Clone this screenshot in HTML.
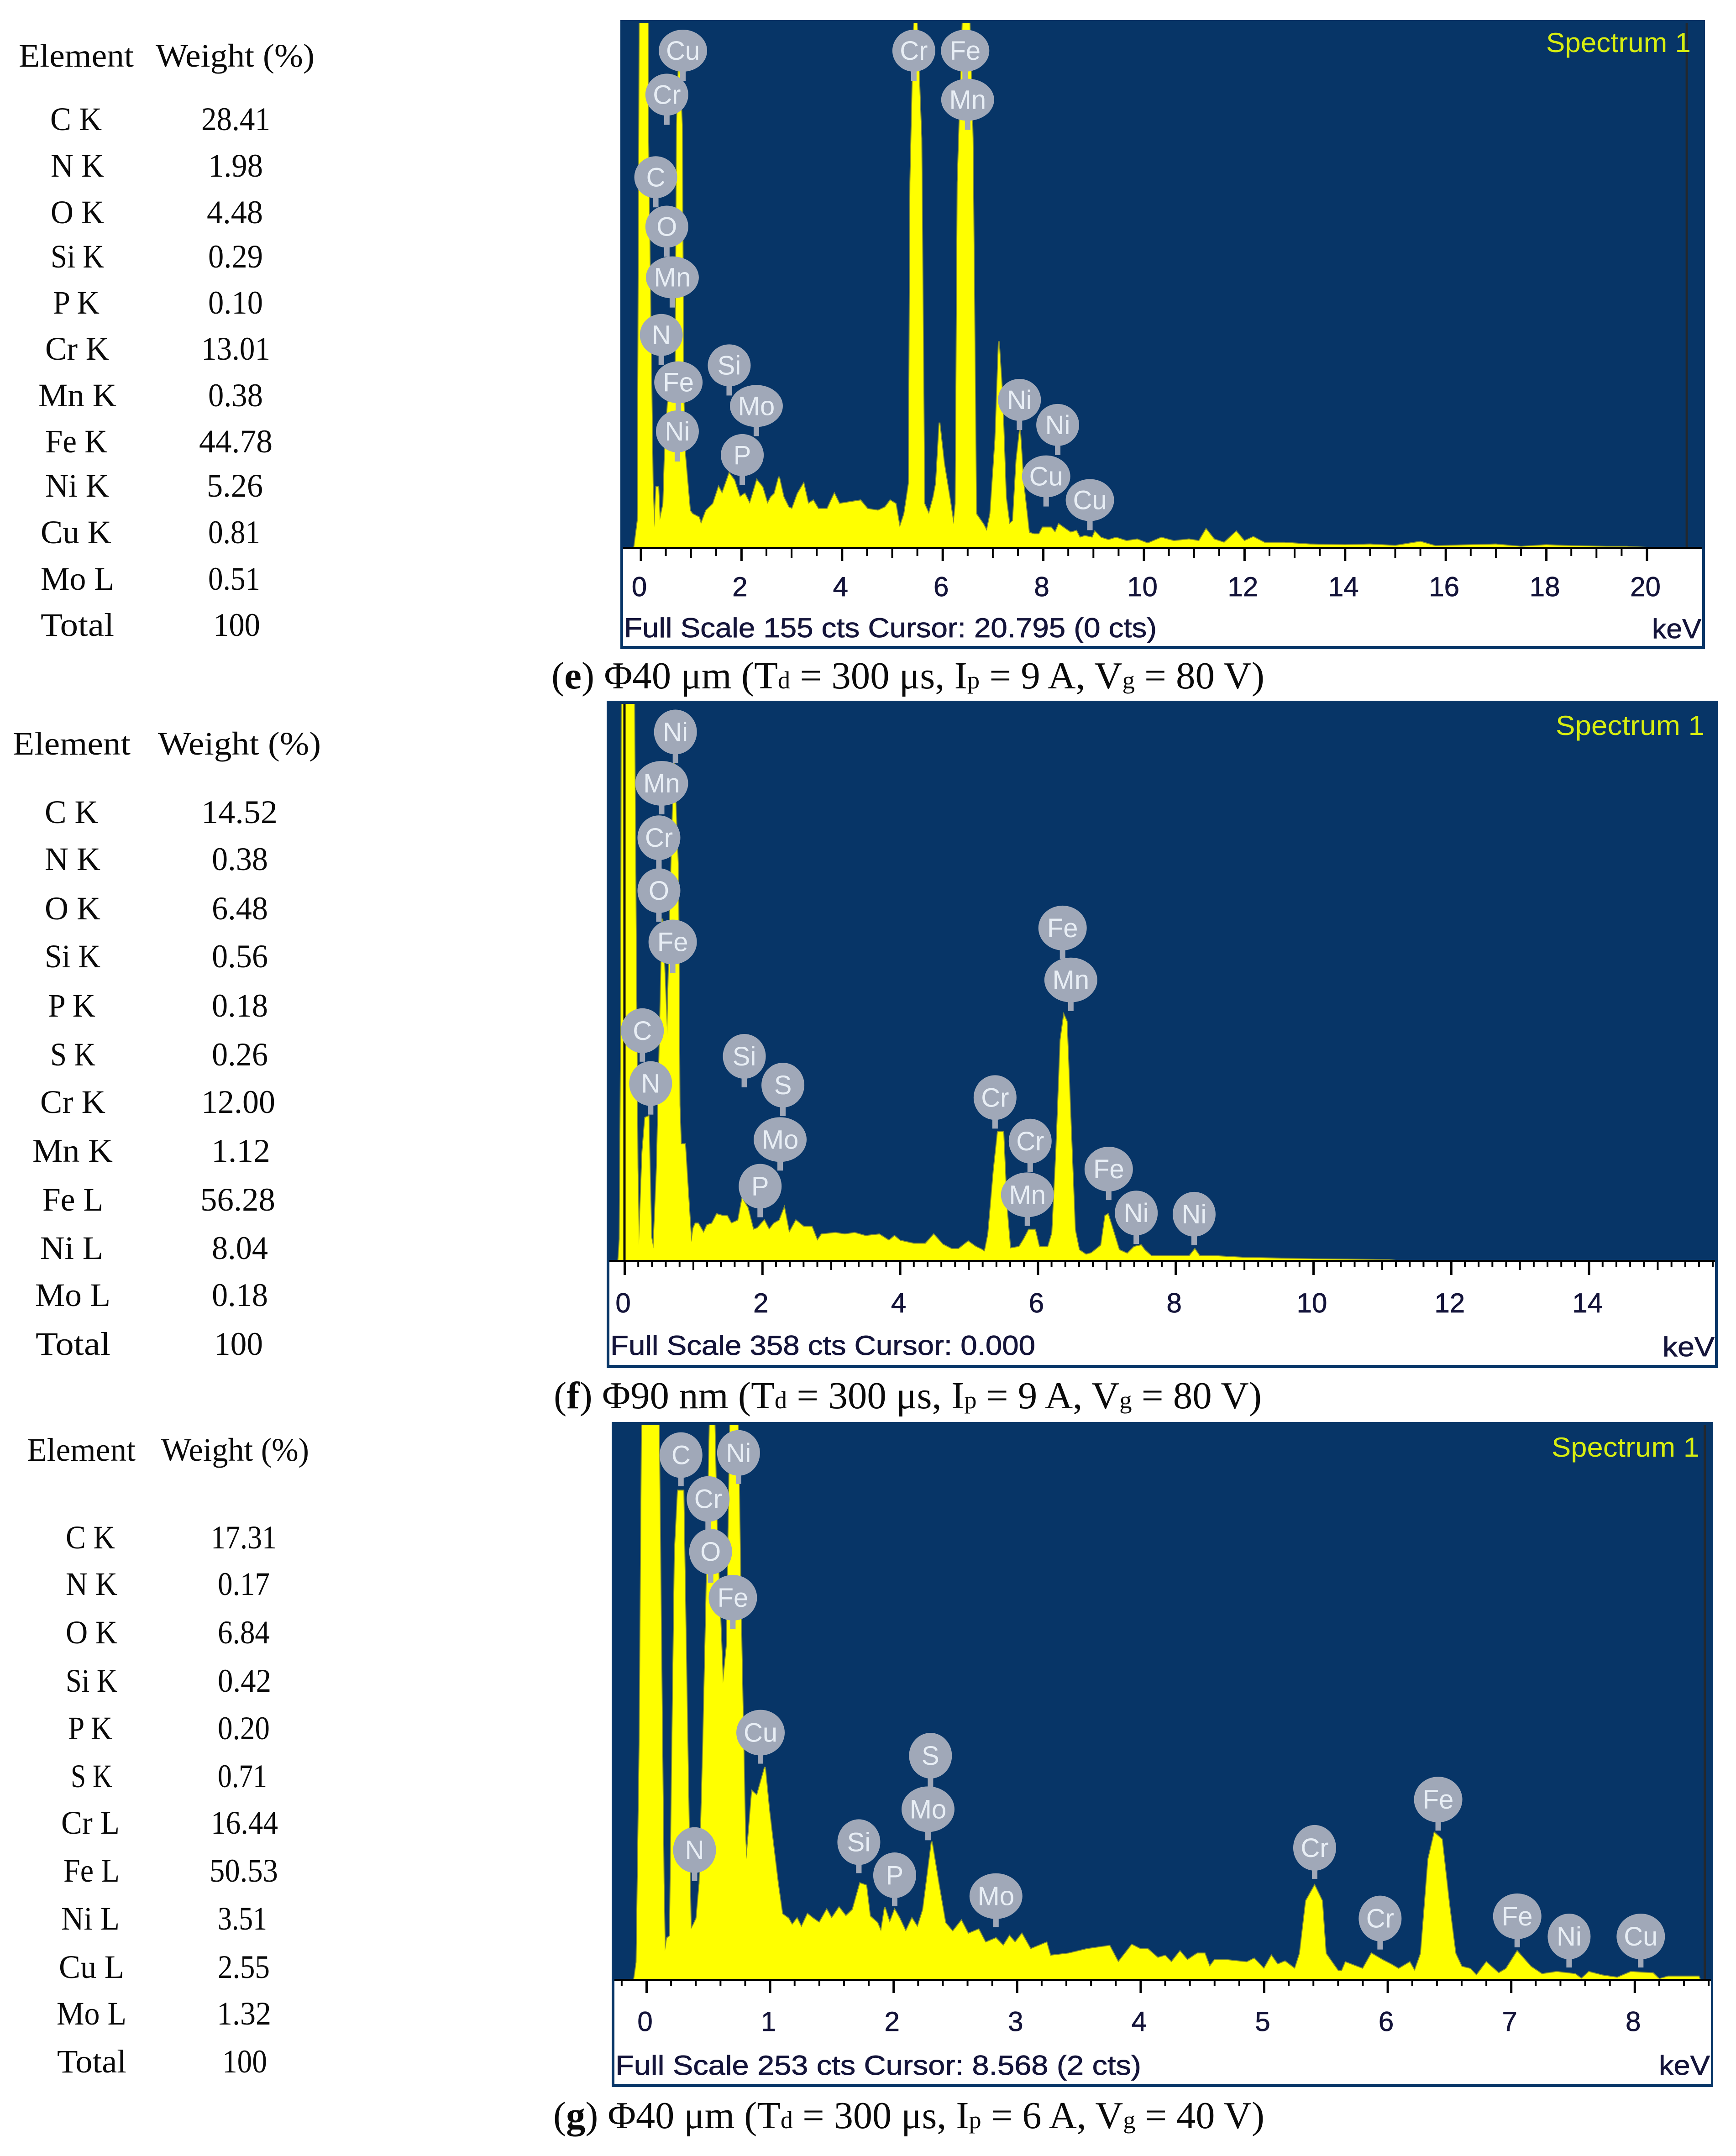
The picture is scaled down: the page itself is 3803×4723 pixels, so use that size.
<!DOCTYPE html>
<html lang="en">
<head>
<meta charset="utf-8">
<title>EDS spectra and element weight tables</title>
<style>
html,body{margin:0;padding:0;background:#fff;}
svg{display:block;position:absolute;left:0;top:0;}
.tb{font-family:"Liberation Serif",serif;font-size:72px;fill:#0a0a0a;}
.cap{font-family:"Liberation Serif",serif;font-size:84px;fill:#0a0a0a;}
.ax{font-family:"Liberation Sans",sans-serif;font-size:60px;fill:#14143a;stroke:#14143a;stroke-width:0.8px;}
.ttl{font-family:"Liberation Sans",sans-serif;font-size:60px;fill:#d8ee10;}
.pk{font-family:"Liberation Sans",sans-serif;font-size:58px;fill:#e8eef5;text-anchor:middle;}
.s{font-size:54px;}
.b{font-weight:bold;}
</style>
</head>
<body>
<svg id="root" xmlns="http://www.w3.org/2000/svg" width="3803" height="4723" viewBox="0 0 3803 4723">
<rect x="0" y="0" width="3803" height="4723" fill="#ffffff"/>

<g>
<text class="tb" x="41" y="146" textLength="252">Element</text>
<text class="tb" x="341" y="146" textLength="348">Weight (%)</text>
<text class="tb" x="110" y="285" textLength="113">C K</text>
<text class="tb" x="441" y="285" textLength="151">28.41</text>
<text class="tb" x="111" y="387" textLength="117">N K</text>
<text class="tb" x="456" y="387" textLength="120">1.98</text>
<text class="tb" x="111" y="489" textLength="117">O K</text>
<text class="tb" x="453" y="489" textLength="123">4.48</text>
<text class="tb" x="111" y="586" textLength="117">Si K</text>
<text class="tb" x="456" y="586" textLength="120">0.29</text>
<text class="tb" x="116" y="687" textLength="102">P K</text>
<text class="tb" x="456" y="687" textLength="120">0.10</text>
<text class="tb" x="99" y="788" textLength="140">Cr K</text>
<text class="tb" x="441" y="788" textLength="151">13.01</text>
<text class="tb" x="84" y="890" textLength="171">Mn K</text>
<text class="tb" x="456" y="890" textLength="120">0.38</text>
<text class="tb" x="99" y="991" textLength="136">Fe K</text>
<text class="tb" x="436" y="991" textLength="161">44.78</text>
<text class="tb" x="99" y="1088" textLength="140">Ni K</text>
<text class="tb" x="453" y="1088" textLength="123">5.26</text>
<text class="tb" x="89" y="1190" textLength="155">Cu K</text>
<text class="tb" x="456" y="1190" textLength="114">0.81</text>
<text class="tb" x="89" y="1292" textLength="161">Mo L</text>
<text class="tb" x="456" y="1292" textLength="114">0.51</text>
<text class="tb" x="89" y="1393" textLength="161">Total</text>
<text class="tb" x="467" y="1393" textLength="103">100</text>
</g>

<g>
<text class="tb" x="28" y="1653" textLength="258">Element</text>
<text class="tb" x="346" y="1653" textLength="357">Weight (%)</text>
<text class="tb" x="98" y="1803" textLength="117">C K</text>
<text class="tb" x="441" y="1803" textLength="167">14.52</text>
<text class="tb" x="98" y="1906" textLength="122">N K</text>
<text class="tb" x="464" y="1906" textLength="123">0.38</text>
<text class="tb" x="98" y="2014" textLength="122">O K</text>
<text class="tb" x="464" y="2014" textLength="123">6.48</text>
<text class="tb" x="98" y="2119" textLength="122">Si K</text>
<text class="tb" x="464" y="2119" textLength="123">0.56</text>
<text class="tb" x="105" y="2227" textLength="104">P K</text>
<text class="tb" x="464" y="2227" textLength="123">0.18</text>
<text class="tb" x="110" y="2334" textLength="99">S K</text>
<text class="tb" x="464" y="2334" textLength="123">0.26</text>
<text class="tb" x="88" y="2438" textLength="143">Cr K</text>
<text class="tb" x="441" y="2438" textLength="162">12.00</text>
<text class="tb" x="71" y="2545" textLength="176">Mn K</text>
<text class="tb" x="463" y="2545" textLength="129">1.12</text>
<text class="tb" x="93" y="2652" textLength="133">Fe L</text>
<text class="tb" x="439" y="2652" textLength="164">56.28</text>
<text class="tb" x="88" y="2758" textLength="138">Ni L</text>
<text class="tb" x="464" y="2758" textLength="123">8.04</text>
<text class="tb" x="77" y="2861" textLength="165">Mo L</text>
<text class="tb" x="464" y="2861" textLength="123">0.18</text>
<text class="tb" x="78" y="2968" textLength="164">Total</text>
<text class="tb" x="469" y="2968" textLength="107">100</text>
</g>

<g>
<text class="tb" x="59" y="3200" textLength="238">Element</text>
<text class="tb" x="353" y="3200" textLength="324">Weight (%)</text>
<text class="tb" x="144" y="3392" textLength="108">C K</text>
<text class="tb" x="462" y="3392" textLength="144">17.31</text>
<text class="tb" x="144" y="3494" textLength="113">N K</text>
<text class="tb" x="477" y="3494" textLength="114">0.17</text>
<text class="tb" x="144" y="3600" textLength="113">O K</text>
<text class="tb" x="477" y="3600" textLength="114">6.84</text>
<text class="tb" x="144" y="3706" textLength="113">Si K</text>
<text class="tb" x="477" y="3706" textLength="117">0.42</text>
<text class="tb" x="149" y="3810" textLength="97">P K</text>
<text class="tb" x="477" y="3810" textLength="114">0.20</text>
<text class="tb" x="155" y="3915" textLength="91">S K</text>
<text class="tb" x="477" y="3915" textLength="108">0.71</text>
<text class="tb" x="134" y="4017" textLength="128">Cr L</text>
<text class="tb" x="462" y="4017" textLength="147">16.44</text>
<text class="tb" x="139" y="4122" textLength="123">Fe L</text>
<text class="tb" x="459" y="4122" textLength="150">50.53</text>
<text class="tb" x="134" y="4227" textLength="128">Ni L</text>
<text class="tb" x="477" y="4227" textLength="108">3.51</text>
<text class="tb" x="129" y="4333" textLength="143">Cu L</text>
<text class="tb" x="477" y="4333" textLength="114">2.55</text>
<text class="tb" x="124" y="4435" textLength="153">Mo L</text>
<text class="tb" x="475" y="4435" textLength="119">1.32</text>
<text class="tb" x="125" y="4540" textLength="152">Total</text>
<text class="tb" x="487" y="4540" textLength="98">100</text>
</g>

<g id="charts"></g>

<text class="cap" x="1208" y="1508" textLength="1562" lengthAdjust="spacingAndGlyphs">(<tspan class="b">e</tspan>) Φ40 μm (T<tspan class="s">d</tspan> = 300 μs, I<tspan class="s">p</tspan> = 9 A, V<tspan class="s">g</tspan> = 80 V)</text>
<text class="cap" x="1213" y="3085" textLength="1551" lengthAdjust="spacingAndGlyphs">(<tspan class="b">f</tspan>) Φ90 nm (T<tspan class="s">d</tspan> = 300 μs, I<tspan class="s">p</tspan> = 9 A, V<tspan class="s">g</tspan> = 80 V)</text>
<text class="cap" x="1212" y="4662" textLength="1558" lengthAdjust="spacingAndGlyphs">(<tspan class="b">g</tspan>) Φ40 μm (T<tspan class="s">d</tspan> = 300 μs, I<tspan class="s">p</tspan> = 6 A, V<tspan class="s">g</tspan> = 40 V)</text>
</svg>

<script>
// ---------- Panel e data ----------
const eEnergy = [-0.13,-0.06,-0.02,0.14,0.15,0.24,0.27,0.31,0.35,0.38,0.45,0.48,0.54,0.69,0.72,0.76,0.82,0.85,0.88,0.98,1.03,1.16,1.2,1.3,1.44,1.55,1.62,1.76,1.86,1.97,2.07,2.17,2.31,2.42,2.52,2.59,2.66,2.75,2.84,2.94,3.01,3.12,3.24,3.33,3.43,3.53,3.71,3.85,3.95,4.16,4.37,4.51,4.72,4.86,4.96,5.07,5.15,5.24,5.33,5.36,5.43,5.48,5.58,5.64,5.73,5.82,5.87,5.94,6.03,6.15,6.22,6.26,6.30,6.41,6.53,6.60,6.67,6.81,6.88,6.95,7.05,7.12,7.19,7.26,7.33,7.40,7.47,7.54,7.61,7.72,7.82,7.92,7.99,8.16,8.24,8.31,8.45,8.55,8.66,8.73,8.83,8.98,9.03,9.15,9.3,9.45,9.66,9.87,10.08,10.35,10.6,10.9,11.1,11.24,11.4,11.6,11.84,12.0,12.18,12.4,12.8,13.3,14.0,14.5,15,15.5,15.8,16.5,17.0,17.5,18,18.5,19.2,19.6,20];
const eCounts = [0,8,160,160,120,19,6,18,18,8,13,28,43,45,125,145,125,45,28,11,10,9,7,11,13,18,16,22,20,15,16,13,20,18,13,15,16,21,15,12,11.5,16,19,13,14,11.5,11.5,16,13,13.5,14,11.5,11,12,14,13,6,10,19,108,154,160,121,13,10,15,19,37,25,14,7,13,108,160,160,121,10,7,5,10,32,61,45,15,7,8,26,35,19,4.5,4,4,6,6,4.5,7,5.5,4.5,5,3,3.5,3,4.8,3,2.3,3,2,2.5,1.3,3,2,2.5,2,5.5,2.5,1.5,4.8,2,3.2,1.5,1.5,1,0.8,1,0.6,1.8,0.5,0.8,1,0.3,0.8,0.5,0.3,0.3,0];
const eTickLabels = [0,2,4,6,8,10,12,14,16,18,20];
const ePeakNames = ["Cu","Cr","C","O","Mn","N","Fe","Ni","Si","Mo","P","Cr","Fe","Mn","Ni","Ni","Cu","Cu"];
const ePeakEnergy = [0.84,0.52,0.30,0.52,0.63,0.41,0.75,0.73,1.76,2.3,2.02,5.43,6.45,6.5,7.53,8.29,8.06,8.93];
const ePeakCounts = [138,125,100.6,86,71,54,40,25.5,45,33,18.5,138,138,123.5,34.8,27.4,12.2,5.2];

// ---------- Panel f data ----------
const fEnergy = [-0.09,-0.07,-0.05,-0.04,0.14,0.17,0.19,0.21,0.26,0.3,0.35,0.39,0.42,0.47,0.5,0.55,0.62,0.66,0.72,0.78,0.8,0.82,0.88,0.93,0.97,1.0,1.03,1.07,1.15,1.2,1.27,1.34,1.42,1.49,1.55,1.65,1.71,1.79,1.87,1.93,2.03,2.1,2.17,2.25,2.32,2.39,2.49,2.6,2.72,2.8,2.86,3.06,3.2,3.34,3.5,3.7,3.84,3.92,4.0,4.2,4.37,4.49,4.62,4.75,4.85,4.99,5.1,5.17,5.23,5.28,5.36,5.42,5.5,5.55,5.6,5.73,5.8,5.87,5.96,6.02,6.15,6.21,6.27,6.33,6.38,6.42,6.48,6.54,6.6,6.7,6.78,6.92,6.98,7.02,7.09,7.18,7.3,7.4,7.5,7.55,7.65,8.0,8.2,8.28,8.35,8.6,9,9.5,10,10.5,11.1,11.2];
const fCounts = [0,14,146,370,370,180,60,10,70,92,93,15,8,60,120,220,145,220,320,250,100,75,75,40,12,21,24,24,18,23,24,30,29,29,24,26,40,34,20,21,26,20,24,26,34,18,26,22,22,13,17,18,17,18,16,17,13,16,13,11,11,17,10.5,7.6,7.6,12.5,9,7.6,6,17,58,83,83,34,8,9,14,20,20,9,9,18,72,142,158,154,87,20,7,4,5,10,29,30,20,7,4.6,9,10,7,3,3,3,7.5,3,3,2,1.5,1,0.8,0.5,0];
const fTickLabels = [0,2,4,6,8,10,12,14];
const fPeakNames = ["Ni","Mn","Cr","O","Fe","C","N","Si","S","Mo","P","Cr","Cr","Mn","Fe","Mn","Fe","Ni","Ni"];
const fPeakEnergy = [0.74,0.54,0.5,0.5,0.7,0.26,0.38,1.74,2.3,2.26,1.97,5.38,5.89,5.85,6.36,6.48,7.03,7.43,8.27];
const fPeakCounts = [320,287,252,218,185,128,94,111.5,93,58,28,85,57,22.5,194,160.6,39,10.8,10];

// ---------- Panel g data ----------
const gEnergy = [-0.1,-0.08,-0.055,-0.035,0.1,0.12,0.14,0.15,0.167,0.19,0.21,0.23,0.255,0.3,0.32,0.345,0.36,0.38,0.405,0.43,0.46,0.485,0.515,0.55,0.57,0.6,0.62,0.65,0.68,0.74,0.77,0.8,0.81,0.855,0.895,0.96,0.995,1.02,1.065,1.1,1.15,1.18,1.22,1.255,1.305,1.35,1.4,1.46,1.5,1.56,1.615,1.67,1.73,1.78,1.81,1.87,1.9,1.93,1.97,2.01,2.05,2.1,2.15,2.195,2.24,2.31,2.365,2.42,2.48,2.55,2.605,2.69,2.745,2.83,2.89,2.94,2.985,3.04,3.11,3.24,3.27,3.42,3.565,3.75,3.82,3.93,4.0,4.06,4.14,4.2,4.25,4.32,4.38,4.46,4.52,4.56,4.6,4.7,4.86,4.92,5.0,5.06,5.11,5.17,5.25,5.29,5.34,5.41,5.47,5.5,5.6,5.63,5.66,5.8,5.87,5.96,6.03,6.09,6.18,6.22,6.27,6.33,6.38,6.44,6.5,6.55,6.6,6.67,6.72,6.8,6.9,6.96,7.05,7.16,7.25,7.37,7.52,7.57,7.63,7.74,7.86,7.97,8.15,8.2,8.27,8.52,8.53];
const gCounts = [0,8,109,260,260,152,44,13,19,20,109,195,223,223,152,66,23,25,28,44,109,173,260,260,206,163,135,152,260,260,152,66,55,86,84,97,77,65,44,30,28,25,28,24,30,28,26,32,28,33,29,32,44,43,29,26,22,33,26,32,28,22,28,24,32,63,44,26,22,27,21,23,17,19,15.5,20,17,21,14,17,11,12,14,15.5,8,16,14,14,10,11,8,13,9,12,12,6,9,9,8,9.7,5,11,7,8.4,5,12,36,43,36,12,4,4,8,5,12,9,7,5,8,4,12,55,67,64,34,12,6,5,2,8,3,5,13,6,2.6,3.6,2.6,0.5,3.6,2,1,3.6,3,0.3,1.5,1.5,0];
const gTickLabels = [0,1,2,3,4,5,6,7,8];
const gPeakNames = ["C","Ni","Cr","O","Fe","Cu","S","Mo","Si","P","N","Mo","Cr","Cr","Fe","Fe","Ni","Cu"];
const gPeakEnergy = [0.28,0.746,0.5,0.52,0.70,0.924,2.3,2.28,1.72,2.01,0.39,2.83,5.41,5.94,6.41,7.05,7.47,8.05];
const gPeakCounts = [225,226,205,181,160,98.5,88,63.6,48.6,33.5,45,24,46,13.8,68,14.8,5.6,5.6];

// ---------- Layout of each panel (geometry only) ----------
const layouts = [
  {key:"e",energy:eEnergy,counts:eCounts,labels:eTickLabels,names:ePeakNames,pkE:ePeakEnergy,pkC:ePeakCounts,
   full:155,ox:1359,oy:44,or:3735,ob:1422,wl:1365,wr:3729,wb:1415,base:1200,top:51,x0:1403.5,ppk:110.2,
   tickMin:0,tickMax:20,minor:0.5,major:2,mid:1,majLen:29,midLen:22,minLen:18,bh:92,tip:66,labelY:1306,
   footer:"Full Scale 155 cts Cursor: 20.795  (0 cts)",fx:1367,fw:1167,fy:1396,kx:3619,kw:108,ky:1398,tx:3387,tw:317,ty:114,cursor:20.795,cursorColor:"#23282e"},
  {key:"f",energy:fEnergy,counts:fCounts,labels:fTickLabels,names:fPeakNames,pkE:fPeakEnergy,pkC:fPeakCounts,
   full:358,ox:1329,oy:1535,or:3763,ob:2997,wl:1335,wr:3757,wb:2990,base:2762,top:1542,x0:1368,ppk:150.9,
   tickMin:0,tickMax:15.8,minor:0.2,major:2,mid:1,majLen:31,midLen:20,minLen:14,bh:98,tip:68,labelY:2875,
   footer:"Full Scale 358 cts Cursor: 0.000",fx:1337,fw:931,fy:2968,kx:3642,kw:114,ky:2971,tx:3408,tw:326,ty:1610,cursor:0,cursorColor:"#0c0c0c"},
  {key:"g",energy:gEnergy,counts:gCounts,labels:gTickLabels,names:gPeakNames,pkE:gPeakEnergy,pkC:gPeakCounts,
   full:253,ox:1340,oy:3115,or:3753,ob:4572,wl:1346,wr:3748,wb:4565,base:4337,top:3121,x0:1416,ppk:270.6,
   tickMin:-0.2,tickMax:8.6,minor:0.2,major:1,mid:0,majLen:29,midLen:14,minLen:14,bh:100,tip:68,labelY:4449,
   footer:"Full Scale 253 cts Cursor: 8.568  (2 cts)",fx:1348,fw:1152,fy:4545,kx:3634,kw:112,ky:4545,tx:3399,tw:324,ty:3191,cursor:8.568,cursorColor:"#23282e"}
];

const NS = "http://www.w3.org/2000/svg";
const chartRoot = document.getElementById("charts");

document.querySelectorAll("text.tb").forEach(function (el) {
  el.setAttribute("lengthAdjust", "spacingAndGlyphs");
});

function mk(tag, attrs, parent) {
  const el = document.createElementNS(NS, tag);
  for (const k in attrs) el.setAttribute(k, attrs[k]);
  parent.appendChild(el);
  return el;
}
function isMultiple(v, step) {
  return step > 0 && Math.abs(v / step - Math.round(v / step)) < 1e-6;
}
function bubbleWidth(name) {
  if (name === "Mn" || name === "Mo") return 116;
  if (name === "Cu" || name === "Fe") return 106;
  return 94;
}

layouts.forEach(function (p) {
  const xScale = function (kev) { return p.x0 + kev * p.ppk; };
  const yScale = function (cts) { return p.base - (cts / p.full) * (p.base - p.top); };

  const g = mk("g", {}, chartRoot);
  
  

  const frame = mk("rect", {x:p.ox, y:p.oy, width:p.or - p.ox, height:p.ob - p.oy, fill:"#073567"}, g);
  
  

  const white = mk("rect", {x:p.wl, y:p.base, width:p.wr - p.wl, height:p.wb - p.base, fill:"#ffffff"}, g);
  
  

  const clip = mk("clipPath", {id:"clip-" + p.key}, g);
  mk("rect", {x:p.wl, y:p.top, width:p.wr - p.wl, height:p.base - p.top}, clip);

  let d = "M" + xScale(p.energy[0]).toFixed(1) + " " + p.base;
  const n = Math.min(p.energy.length, p.counts.length);
  for (let i = 0; i < n; i++) {
    d += "L" + xScale(p.energy[i]).toFixed(1) + " " + yScale(p.counts[i]).toFixed(1);
  }
  d += "L" + xScale(p.energy[n - 1]).toFixed(1) + " " + p.base + "Z";

  const halo = mk("path", {d:d, fill:"none", stroke:"#7f8a35", "stroke-width":4, "clip-path":"url(#clip-" + p.key + ")"}, g);
  
  

  const area = mk("path", {d:d, fill:"#ffff00", "clip-path":"url(#clip-" + p.key + ")"}, g);
  
  

  const cur = mk("rect", {x:xScale(p.cursor) - 2.5, y:p.top, width:5, height:p.base - p.top, fill:p.cursorColor}, g);
  
  

  const axis = mk("rect", {x:p.wl, y:p.base - 2, width:p.wr - p.wl, height:5, fill:"#000000"}, g);
  
  

  const tickCount = Math.round((p.tickMax - p.tickMin) / p.minor);
  for (let i = 0; i <= tickCount; i++) {
    const v = p.tickMin + i * p.minor;
    const len = isMultiple(v, p.major) ? p.majLen : (isMultiple(v, p.mid) ? p.midLen : p.minLen);
    const t = mk("rect", {x:xScale(v) - 2, y:p.base, width:isMultiple(v, p.major) ? 5 : 4, height:len, fill:"#000000"}, g);
    
    
  }

  p.labels.forEach(function (v) {
    const t = mk("text", {x:xScale(v) - 3, y:p.labelY, "text-anchor":"middle", "class":"ax"}, g);
    t.textContent = String(v);
    
    
  });

  const foot = mk("text", {x:p.fx, y:p.fy, textLength:p.fw, lengthAdjust:"spacingAndGlyphs", "class":"ax", "xml:space":"preserve"}, g);
  foot.textContent = p.footer;
  
  

  const kev = mk("text", {x:p.kx, y:p.ky, textLength:p.kw, lengthAdjust:"spacingAndGlyphs", "class":"ax"}, g);
  kev.textContent = "keV";
  
  

  const ttl = mk("text", {x:p.tx, y:p.ty, textLength:p.tw, lengthAdjust:"spacingAndGlyphs", "class":"ttl"}, g);
  ttl.textContent = "Spectrum 1";
  
  

  p.names.forEach(function (name, i) {
    const cx = xScale(p.pkE[i]);
    const tipY = yScale(p.pkC[i]);
    const cy = tipY - p.tip;
    const w = bubbleWidth(name);
    const b = mk("g", {}, g);
    
    
    mk("rect", {x:cx - 6, y:cy, width:12, height:p.tip, fill:"#a0a8b8"}, b);
    mk("ellipse", {cx:cx, cy:cy, rx:w / 2, ry:p.bh / 2, fill:"#a0a8b8"}, b);
    const tx = mk("text", {x:cx, y:cy + 20, "class":"pk"}, b);
    tx.textContent = name;
  });
});
</script>
</body>
</html>
